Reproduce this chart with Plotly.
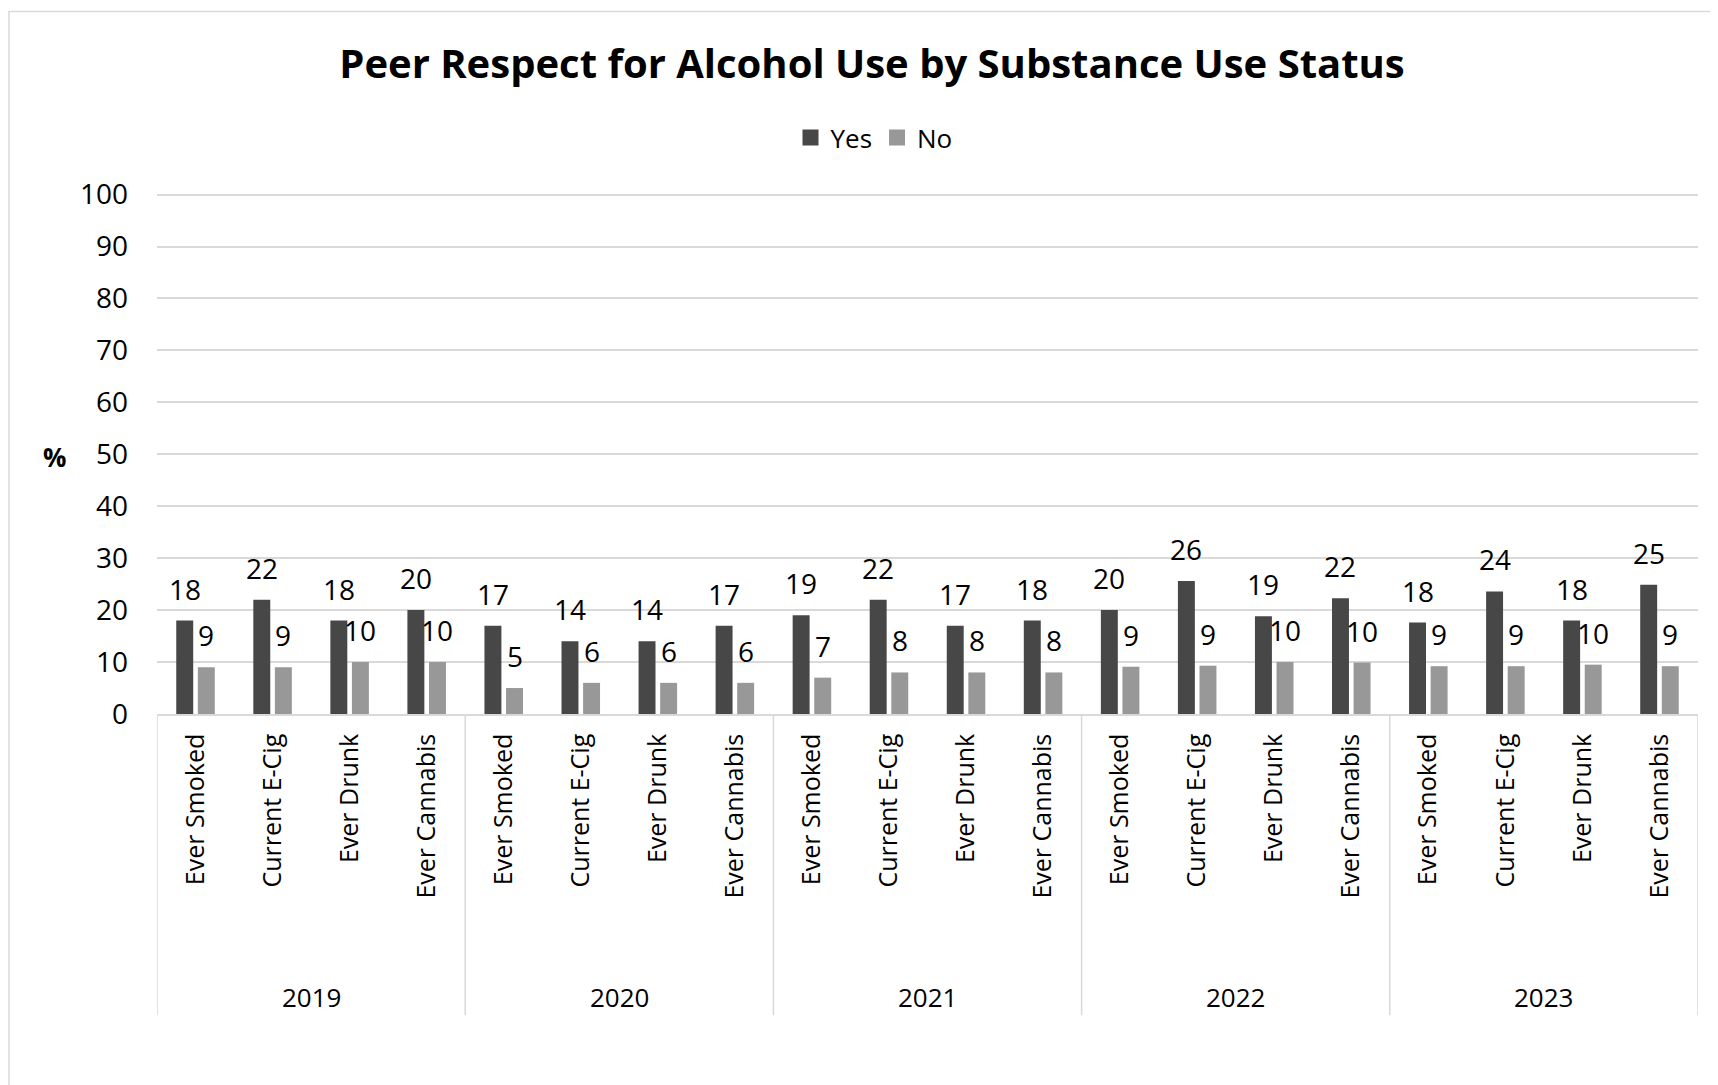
import plotly.graph_objects as go

# ---------------- data ----------------
years = ["2019", "2020", "2021", "2022", "2023"]
substances = ["Ever Smoked", "Current E-Cig", "Ever Drunk", "Ever Cannabis"]
yes_vals = [18, 22, 18, 20,
            17, 14, 14, 17,
            19, 22, 17, 18,
            20, 25.6, 18.8, 22.3,
            17.6, 23.6, 18, 24.9]
no_vals = [9, 9, 10, 10,
           5, 6, 6, 6,
           7, 8, 8, 8,
           9.1, 9.3, 10, 9.9,
           9.2, 9.2, 9.5, 9.2]
y_ticks = [0, 10, 20, 30, 40, 50, 60, 70, 80, 90, 100]

# ---------------- layout constants ----------------
PAGE = 8                      # default page body margin
W, H = 1718 - PAGE, 1085 - PAGE
PLOT_L, PLOT_R, PLOT_T0, PLOT_B = 157, 1698, 195, 714   # reference-pixel geometry
Y_MAX = 100.5
PH = (PLOT_B - PLOT_T0) * Y_MAX / 100
PLOT_T = PLOT_B - PH
L = PLOT_L - PAGE
T = PLOT_T - PAGE
R = W - (PLOT_R - PAGE)
B = H - (PLOT_B - PAGE)
PW = PLOT_R - PLOT_L

FONT = "Open Sans"
GRID = "#d9d9d9"
YES_C, NO_C = "#474747", "#989898"
BAR_W, YES_OFF, NO_OFF = 0.22, -0.25, 0.03


def py(pix):  # reference pixel y -> paper y
    return (PLOT_B - pix) / PH


def px(pix):  # reference pixel x -> paper x
    return (pix - PLOT_L) / PW


def lab(v):
    return str(int(v + 0.5))


n_sub = len(substances)
xpos = list(range(len(years) * n_sub))
cat_text = [s for _ in years for s in substances]

fig = go.Figure()
fig.add_bar(x=xpos, y=yes_vals, name="Yes", width=BAR_W, offset=YES_OFF, showlegend=False,
            marker=dict(color=YES_C, line=dict(width=0)))
fig.add_bar(x=xpos, y=no_vals, name="No", width=BAR_W, offset=NO_OFF, showlegend=False,
            marker=dict(color=NO_C, line=dict(width=0)))
# legend keys (square swatches like the original)
for nm, col in (("Yes", YES_C), ("No", NO_C)):
    fig.add_scatter(x=[None], y=[None], mode="markers", name=nm,
                    marker=dict(symbol="square", size=16, color=col, line=dict(width=0)))

annotations = []
for i, (yv, nv) in enumerate(zip(yes_vals, no_vals)):
    for v, off in ((yv, YES_OFF), (nv, NO_OFF)):
        annotations.append(dict(x=i + off + BAR_W / 2, y=v, xref="x", yref="y",
                                text=lab(v), showarrow=False, yanchor="bottom",
                                yshift=11, font=dict(family=FONT, size=28, color="#000000")))

for k, yr in enumerate(years):
    annotations.append(dict(x=k * n_sub + (n_sub - 1) / 2, y=py(997), xref="x", yref="paper",
                            text=yr, showarrow=False, yanchor="middle",
                            font=dict(family=FONT, size=26, color="#000000")))

annotations.append(dict(x=px(54), y=py(457), xref="paper", yref="paper", text="<b>%</b>",
                        showarrow=False, xanchor="center", yanchor="middle",
                        font=dict(family=FONT, size=26, color="#000000")))

shapes = []
for k in range(len(years) + 1):
    xb = k * n_sub - 0.5
    shapes.append(dict(type="line", xref="x", yref="paper", x0=xb, x1=xb,
                       y0=0, y1=py(1015), line=dict(color=GRID, width=1.5)))
# chart-area border (open to the right and bottom, as in the original)
shapes.append(dict(type="rect", xref="paper", yref="paper",
                   x0=px(9), x1=px(1760), y0=py(1120), y1=py(12),
                   line=dict(color=GRID, width=1.5), fillcolor="rgba(0,0,0,0)", layer="below"))

fig.update_layout(
    width=W, height=H,
    margin=dict(l=L, r=R, t=T, b=B, autoexpand=False),
    paper_bgcolor="white", plot_bgcolor="white",
    barmode="overlay",
    title=dict(text="<b>Peer Respect for Alcohol Use by Substance Use Status</b>",
               x=(872 - PAGE) / W, xref="container", xanchor="center",
               y=1 - (64 - PAGE) / H, yref="container", yanchor="middle",
               font=dict(family=FONT, size=40, color="#000000")),
    legend=dict(orientation="h", x=px(874), xanchor="center", y=py(138), yanchor="middle",
                font=dict(family=FONT, size=26, color="#000000"),
                itemwidth=30, tracegroupgap=0, bgcolor="rgba(0,0,0,0)"),
    xaxis=dict(range=[-0.5, len(xpos) - 0.5], tickmode="array", tickvals=xpos, ticktext=cat_text,
               tickangle=-90, ticks="", showgrid=False, zeroline=False,
               showline=True, linecolor=GRID, linewidth=1.5, ticklabelstandoff=8,
               tickfont=dict(family=FONT, size=25, color="#000000")),
    yaxis=dict(range=[0, Y_MAX], tickmode="array", tickvals=y_ticks, showgrid=True,
               gridcolor=GRID, gridwidth=1.5, zeroline=False, showline=False, ticks="",
               ticklabelstandoff=28,
               tickfont=dict(family=FONT, size=28, color="#000000")),
    annotations=annotations,
    shapes=shapes,
    showlegend=True,
)

fig.write_html("out.html")
